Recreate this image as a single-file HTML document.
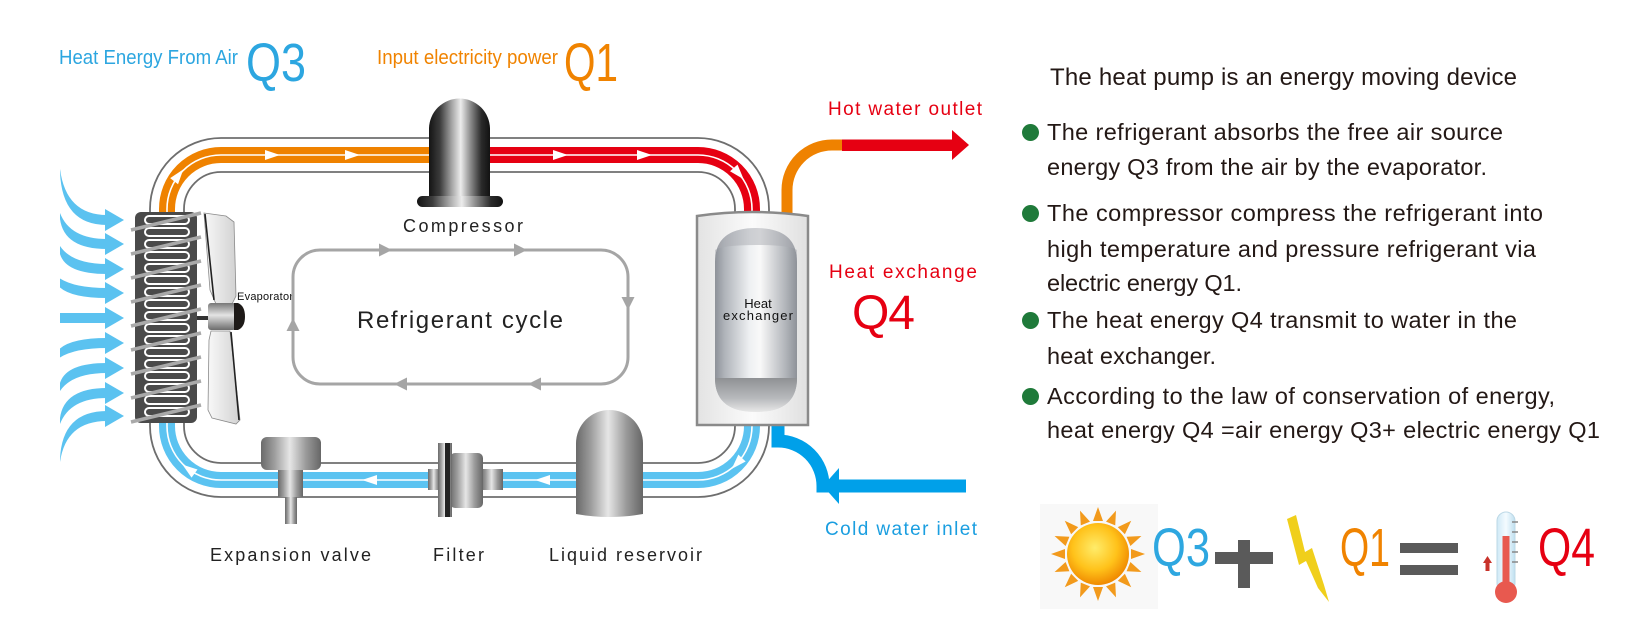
<!DOCTYPE html>
<html><head><meta charset="utf-8">
<style>
html,body{margin:0;padding:0;background:#fff;}
svg{display:block;}
text{font-family:"Liberation Sans",Arial,sans-serif;}
</style></head><body>
<svg width="1629" height="633" viewBox="0 0 1629 633" xmlns="http://www.w3.org/2000/svg">
<defs>
 <linearGradient id="comp" x1="0" x2="1" y1="0" y2="0">
  <stop offset="0" stop-color="#141414"/>
  <stop offset="0.18" stop-color="#3c3c3c"/>
  <stop offset="0.38" stop-color="#a8a8a8"/>
  <stop offset="0.52" stop-color="#ececec"/>
  <stop offset="0.68" stop-color="#8c8c8c"/>
  <stop offset="0.86" stop-color="#2a2a2a"/>
  <stop offset="1" stop-color="#121212"/>
 </linearGradient>
 <linearGradient id="metal" x1="0" x2="1" y1="0" y2="0">
  <stop offset="0" stop-color="#6a6a6a"/>
  <stop offset="0.22" stop-color="#9c9c9c"/>
  <stop offset="0.48" stop-color="#e6e6e6"/>
  <stop offset="0.75" stop-color="#9a9a9a"/>
  <stop offset="1" stop-color="#666"/>
 </linearGradient>
 <linearGradient id="metalV" x1="0" x2="0" y1="0" y2="1">
  <stop offset="0" stop-color="#777"/>
  <stop offset="0.45" stop-color="#e4e4e4"/>
  <stop offset="1" stop-color="#6c6c6c"/>
 </linearGradient>
 <linearGradient id="hxbox" x1="0" x2="1" y1="0" y2="0">
  <stop offset="0" stop-color="#e3e3e3"/>
  <stop offset="0.5" stop-color="#fbfbfb"/>
  <stop offset="1" stop-color="#e0e0e0"/>
 </linearGradient>
 <linearGradient id="cyl" x1="0" x2="1" y1="0" y2="0">
  <stop offset="0" stop-color="#8e9299"/>
  <stop offset="0.12" stop-color="#b0b4ba"/>
  <stop offset="0.42" stop-color="#eef0f2"/>
  <stop offset="0.55" stop-color="#f9f9f9"/>
  <stop offset="0.85" stop-color="#b4b7bc"/>
  <stop offset="1" stop-color="#8e9299"/>
 </linearGradient>
 <linearGradient id="cylB" x1="0" x2="0" y1="0" y2="1">
  <stop offset="0" stop-color="#8f9194"/>
  <stop offset="0.6" stop-color="#b8babd"/>
  <stop offset="1" stop-color="#e8e8e8"/>
 </linearGradient>
 <linearGradient id="blade" x1="0" x2="1" y1="0" y2="0">
  <stop offset="0" stop-color="#f8f8f8"/>
  <stop offset="1" stop-color="#d2d2d2"/>
 </linearGradient>
 <radialGradient id="sun" cx="0.45" cy="0.4" r="0.6">
  <stop offset="0" stop-color="#ffec6a"/>
  <stop offset="0.6" stop-color="#ffc21a"/>
  <stop offset="1" stop-color="#f08a00"/>
 </radialGradient>
 <linearGradient id="therm" x1="0" x2="1" y1="0" y2="0">
  <stop offset="0" stop-color="#cfe9f6"/>
  <stop offset="0.5" stop-color="#f4fbff"/>
  <stop offset="1" stop-color="#bfe0f0"/>
 </linearGradient>
</defs>

<!-- Top labels -->
<text x="59" y="64" font-size="20" fill="#2ca6e0" textLength="179" lengthAdjust="spacingAndGlyphs">Heat Energy From Air</text>
<text x="246" y="81" font-size="54" fill="#2ca6e0" textLength="60" lengthAdjust="spacingAndGlyphs">Q3</text>
<text x="377" y="64" font-size="20" fill="#f08300" textLength="181" lengthAdjust="spacingAndGlyphs">Input electricity power</text>
<text x="564" y="81" font-size="54" fill="#f08300" textLength="54" lengthAdjust="spacingAndGlyphs">Q1</text>

<!-- Pipe loop gray borders -->
<rect x="150" y="138" width="619" height="359" rx="71" fill="none" stroke="#6e6e6e" stroke-width="1.8"/>
<rect x="184" y="172" width="551" height="291" rx="37" fill="none" stroke="#6e6e6e" stroke-width="1.8"/>
<!-- colored bands -->
<path d="M167,216 L167,209 A54,54 0 0 1 221,155 L432,155" stroke="#ef8200" stroke-width="16" fill="none"/>
<path d="M488,155 L698,155 A54,54 0 0 1 752,209 L752,218" stroke="#e60012" stroke-width="16" fill="none"/>
<path d="M752,420 L752,426 A54,54 0 0 1 698,480 L221,480 A54,54 0 0 1 167,426 L167,418" stroke="#5bc3f1" stroke-width="16" fill="none"/>
<!-- white center lines -->
<path d="M167,216 L167,209 A54,54 0 0 1 221,155 L432,155" stroke="#fff" stroke-width="1.6" fill="none"/>
<path d="M488,155 L698,155 A54,54 0 0 1 752,209 L752,218" stroke="#fff" stroke-width="1.6" fill="none"/>
<path d="M752,420 L752,426 A54,54 0 0 1 698,480 L221,480 A54,54 0 0 1 167,426 L167,418" stroke="#fff" stroke-width="1.6" fill="none"/>
<!-- white arrows on pipes -->
<g fill="#fff">
 <polygon points="265,150 280,155 265,160"/>
 <polygon points="345,150 360,155 345,160"/>
 <polygon points="553,150 568,155 553,160"/>
 <polygon points="637,150 652,155 637,160"/>
 <polygon points="377,475 362,480 377,485"/>
 <polygon points="550,475 535,480 550,485"/>
 <polygon points="-7,-5 8,0 -7,5" transform="translate(178.4,175.7) rotate(-52)"/>
 <polygon points="-7,-5 8,0 -7,5" transform="translate(738.4,173.2) rotate(48.5)"/>
 <polygon points="-7,-5 8,0 -7,5" transform="translate(737.2,463.1) rotate(133.4)"/>
 <polygon points="-7,-5 8,0 -7,5" transform="translate(188.9,469.4) rotate(216.5)"/>
</g>

<!-- Air arrows (tapered) -->
<g fill="#5bc2f0">
 <path d="M60,169 Q66,215 107,215 L107,225 Q62,225 60,172 Z"/>
 <path d="M60,213 Q70,239 107,239 L107,249 Q64,249 60,219 Z"/>
 <path d="M60,246 Q72,264 107,264 L107,274 Q66,274 60,254 Z"/>
 <path d="M60,278.5 Q75,288 107,288 L107,298 Q72,298 60,287.5 Z"/>
 <rect x="60" y="313" width="47" height="10"/>
 <path d="M60,357.5 Q75,348 107,348 L107,338 Q72,338 60,348.5 Z"/>
 <path d="M60,391 Q72,373 107,373 L107,363 Q66,363 60,383 Z"/>
 <path d="M60,424 Q70,398 107,398 L107,388 Q64,388 60,418 Z"/>
 <path d="M60,462 Q66,421 107,421 L107,411 Q62,411 60,459 Z"/>
 <polygon points="105,209 124,220 105,231"/>
 <polygon points="105,233 124,244 105,255"/>
 <polygon points="105,258 124,269 105,280"/>
 <polygon points="105,282 124,293 105,304"/>
 <polygon points="105,307 124,318 105,329"/>
 <polygon points="105,332 124,343 105,354"/>
 <polygon points="105,357 124,368 105,379"/>
 <polygon points="105,382 124,393 105,404"/>
 <polygon points="105,405 124,416 105,427"/>
</g>

<!-- Evaporator -->
<rect x="135" y="212" width="62" height="211" rx="6" fill="#4a4a4a"/>
<g fill="none" stroke="#fff" stroke-width="2">
 <rect x="145" y="216" width="44" height="8" rx="4"/>
 <rect x="145" y="228" width="44" height="8" rx="4"/>
 <rect x="145" y="240" width="44" height="8" rx="4"/>
 <rect x="145" y="252" width="44" height="8" rx="4"/>
 <rect x="145" y="264" width="44" height="8" rx="4"/>
 <rect x="145" y="276" width="44" height="8" rx="4"/>
 <rect x="145" y="288" width="44" height="8" rx="4"/>
 <rect x="145" y="300" width="44" height="8" rx="4"/>
 <rect x="145" y="312" width="44" height="8" rx="4"/>
 <rect x="145" y="324" width="44" height="8" rx="4"/>
 <rect x="145" y="336" width="44" height="8" rx="4"/>
 <rect x="145" y="348" width="44" height="8" rx="4"/>
 <rect x="145" y="360" width="44" height="8" rx="4"/>
 <rect x="145" y="372" width="44" height="8" rx="4"/>
 <rect x="145" y="384" width="44" height="8" rx="4"/>
 <rect x="145" y="396" width="44" height="8" rx="4"/>
 <rect x="145" y="408" width="44" height="8" rx="4"/>
</g>
<g stroke="#a9a9a9" stroke-width="3.5">
 <line x1="131" y1="230" x2="201" y2="213"/>
 <line x1="131" y1="254" x2="201" y2="237"/>
 <line x1="131" y1="278" x2="201" y2="261"/>
 <line x1="131" y1="302" x2="201" y2="285"/>
 <line x1="131" y1="326" x2="201" y2="309"/>
 <line x1="131" y1="350" x2="201" y2="333"/>
 <line x1="131" y1="374" x2="201" y2="357"/>
 <line x1="131" y1="398" x2="201" y2="381"/>
 <line x1="131" y1="422" x2="201" y2="405"/>
</g>

<!-- Fan -->
<rect x="197" y="316" width="12" height="4" fill="#333"/>
<polygon points="204,213 226,216 234,222 236,296 232,304 216,304 210,290" fill="url(#blade)" stroke="#8a8a8a" stroke-width="0.8"/>
<line x1="205" y1="214" x2="214" y2="300" stroke="#222" stroke-width="1.6"/>
<polygon points="211,331 230,331 240,420 236,424 212,418 208,410 209,340" fill="url(#blade)" stroke="#8a8a8a" stroke-width="0.8"/>
<line x1="231" y1="332" x2="239" y2="420" stroke="#222" stroke-width="1.6"/>
<rect x="208" y="303" width="28" height="27" rx="3" fill="url(#metalV)"/>
<path d="M234,303 L238,303 Q245,306 245,316.5 Q245,327 238,330 L234,330 Z" fill="#1e1a18"/>
<text x="237" y="300" font-size="11" fill="#111" textLength="56">Evaporator</text>

<!-- Refrigerant cycle -->
<rect x="293" y="250" width="335" height="134" rx="27" fill="none" stroke="#a5a5a5" stroke-width="3"/>
<g fill="#a5a5a5">
 <polygon points="379,243.5 392,250 379,256.5"/>
 <polygon points="514,243.5 527,250 514,256.5"/>
 <polygon points="621.5,297 634.5,297 628,310"/>
 <polygon points="394,384 407,377.5 407,390.5"/>
 <polygon points="528,384 541,377.5 541,390.5"/>
 <polygon points="293,318 286.5,331 299.5,331"/>
</g>
<text x="357" y="328" font-size="24" fill="#222" textLength="206">Refrigerant cycle</text>

<!-- Compressor -->
<path d="M429,199 L429,129 A30.5,30.5 0 0 1 490,129 L490,199 Z" fill="url(#comp)"/>
<rect x="417" y="196" width="86" height="11" rx="5.5" fill="url(#comp)"/>
<text x="403" y="232" font-size="18" fill="#222" textLength="120">Compressor</text>

<!-- Bottom components -->
<!-- Expansion valve -->
<rect x="285" y="495" width="12" height="29" fill="url(#metal)"/>
<rect x="278" y="469" width="25" height="28" fill="url(#metal)"/>
<rect x="261" y="437" width="60" height="33" rx="6" fill="url(#metal)"/>
<!-- Filter -->
<rect x="428" y="469" width="12" height="21" fill="url(#metal)"/>
<rect x="481" y="469" width="22" height="21" fill="url(#metal)"/>
<rect x="450" y="453" width="33" height="55" rx="5" fill="url(#metal)"/>
<rect x="438" y="443" width="14" height="74" fill="url(#metal)"/>
<rect x="445" y="443" width="5" height="74" fill="#222"/>
<!-- Liquid reservoir -->
<path d="M576,514 L576,443.5 A33.5,33.5 0 0 1 643,443.5 L643,514 Q609.5,520 576,514 Z" fill="url(#metal)"/>

<text x="210" y="561" font-size="18" fill="#222" textLength="161">Expansion valve</text>
<text x="433" y="561" font-size="18" fill="#222" textLength="51">Filter</text>
<text x="549" y="561" font-size="18" fill="#222" textLength="153">Liquid reservoir</text>

<!-- Hot water pipe -->
<path d="M787,220 L787,190 A45,45 0 0 1 832,145 L842,145" stroke="#ef8200" stroke-width="11" fill="none"/>
<rect x="842" y="139.5" width="112" height="11.5" fill="#e60012"/>
<polygon points="952,130 969,145 952,160" fill="#e60012"/>
<text x="828" y="115" font-size="19" fill="#e60012" textLength="154">Hot water outlet</text>

<!-- Cold water pipe -->
<path d="M778,420 L778,441 A45,45 0 0 1 823,486 L836,486" stroke="#00a0e9" stroke-width="13" fill="none"/>
<rect x="834" y="479.5" width="132" height="13" fill="#00a0e9"/>
<polygon points="823,486 839,468 839,504" fill="#00a0e9"/>
<text x="825" y="535" font-size="19" fill="#1a9ee0" textLength="152">Cold water inlet</text>

<!-- Heat exchanger -->
<path d="M697,216 Q752,208 808,216 L808,425 L697,425 Z" fill="url(#hxbox)" stroke="#8a8a8a" stroke-width="2.5"/>
<path d="M715,262 Q715,228 756,228 Q797,228 797,262 L797,378 Q797,412 756,412 Q715,412 715,378 Z" fill="url(#cyl)"/>
<path d="M715,378 L797,378 Q797,412 756,412 Q715,412 715,378 Z" fill="url(#cylB)"/>
<path d="M715,262 Q715,228 756,228 Q797,228 797,262 L797,250 Q790,245 756,245 Q722,245 715,250 Z" fill="#a9acb1" opacity="0.5"/>
<text x="758" y="308" font-size="13" fill="#111" text-anchor="middle">Heat</text>
<text x="758" y="320" font-size="13" fill="#111" text-anchor="middle" textLength="70">exchanger</text>

<text x="829" y="278" font-size="19" fill="#e60012" textLength="148">Heat exchange</text>
<text x="852" y="329" font-size="48" fill="#e60012" textLength="63">Q4</text>

<!-- Right text -->
<text x="1050" y="85" font-size="24" fill="#231815" textLength="467">The heat pump is an energy moving device</text>
<g fill="#1f7a3a">
 <circle cx="1030.5" cy="132.5" r="8.5"/>
 <circle cx="1030.5" cy="213.5" r="8.5"/>
 <circle cx="1030.5" cy="320.5" r="8.5"/>
 <circle cx="1030.5" cy="396.5" r="8.5"/>
</g>
<g font-size="23.5" fill="#231815">
 <text x="1047" y="140" textLength="456">The refrigerant absorbs the free air source</text>
 <text x="1047" y="175" textLength="440">energy Q3 from the air by the evaporator.</text>
 <text x="1047" y="221" textLength="496">The compressor compress the refrigerant into</text>
 <text x="1047" y="257" textLength="489">high temperature and pressure refrigerant via</text>
 <text x="1047" y="291" textLength="195">electric energy Q1.</text>
 <text x="1047" y="328" textLength="470">The heat energy Q4 transmit to water in the</text>
 <text x="1047" y="364" textLength="169">heat exchanger.</text>
 <text x="1047" y="404" textLength="508">According to the law of conservation of energy,</text>
 <text x="1047" y="438" textLength="553">heat energy Q4 =air energy Q3+ electric energy Q1</text>
</g>

<!-- Equation -->
<rect x="1040" y="504" width="118" height="105" fill="#f8f8f8"/>
<g transform="translate(1098,554)" fill="#f29a1c">
 <polygon points="-5,-33 0,-47 5,-33"/>
 <polygon points="-5,-33 0,-47 5,-33" transform="rotate(22.5)"/>
 <polygon points="-5,-33 0,-47 5,-33" transform="rotate(45)"/>
 <polygon points="-5,-33 0,-47 5,-33" transform="rotate(67.5)"/>
 <polygon points="-5,-33 0,-47 5,-33" transform="rotate(90)"/>
 <polygon points="-5,-33 0,-47 5,-33" transform="rotate(112.5)"/>
 <polygon points="-5,-33 0,-47 5,-33" transform="rotate(135)"/>
 <polygon points="-5,-33 0,-47 5,-33" transform="rotate(157.5)"/>
 <polygon points="-5,-33 0,-47 5,-33" transform="rotate(180)"/>
 <polygon points="-5,-33 0,-47 5,-33" transform="rotate(202.5)"/>
 <polygon points="-5,-33 0,-47 5,-33" transform="rotate(225)"/>
 <polygon points="-5,-33 0,-47 5,-33" transform="rotate(247.5)"/>
 <polygon points="-5,-33 0,-47 5,-33" transform="rotate(270)"/>
 <polygon points="-5,-33 0,-47 5,-33" transform="rotate(292.5)"/>
 <polygon points="-5,-33 0,-47 5,-33" transform="rotate(315)"/>
 <polygon points="-5,-33 0,-47 5,-33" transform="rotate(337.5)"/>
 <circle r="31" fill="url(#sun)"/>
</g>
<text x="1152" y="566" font-size="54" fill="#2ea7e0" textLength="58" lengthAdjust="spacingAndGlyphs">Q3</text>
<rect x="1215" y="552" width="58" height="12" fill="#5a5a5a"/>
<rect x="1238" y="540" width="12" height="48" fill="#5a5a5a"/>
<polygon points="1287,519 1296,515 1305,552 1312,548 1324,585 1329,602 1318,588 1306,561 1299,565" fill="#f0cf1b"/>
<text x="1340" y="566" font-size="54" fill="#f08300" textLength="50" lengthAdjust="spacingAndGlyphs">Q1</text>
<rect x="1400" y="543" width="58" height="10" fill="#5a5a5a"/>
<rect x="1400" y="565" width="58" height="10" fill="#5a5a5a"/>
<!-- thermometer -->
<rect x="1497" y="512" width="18" height="80" rx="9" fill="url(#therm)" stroke="#bcd8e6" stroke-width="1"/>
<circle cx="1506" cy="592" r="11" fill="#e8594f"/>
<rect x="1502.5" y="536" width="7" height="56" fill="#e8594f"/>
<g stroke="#888" stroke-width="1.5">
 <line x1="1512" y1="522" x2="1518" y2="522"/>
 <line x1="1512" y1="532" x2="1518" y2="532"/>
 <line x1="1512" y1="542" x2="1518" y2="542"/>
 <line x1="1512" y1="552" x2="1518" y2="552"/>
 <line x1="1512" y1="562" x2="1518" y2="562"/>
</g>
<polygon points="1487.5,556 1483,563 1492,563" fill="#c8322a"/>
<rect x="1485.5" y="562" width="4" height="9" fill="#c8322a"/>
<text x="1538" y="566" font-size="54" fill="#e60012" textLength="57" lengthAdjust="spacingAndGlyphs">Q4</text>
</svg>
</body></html>
